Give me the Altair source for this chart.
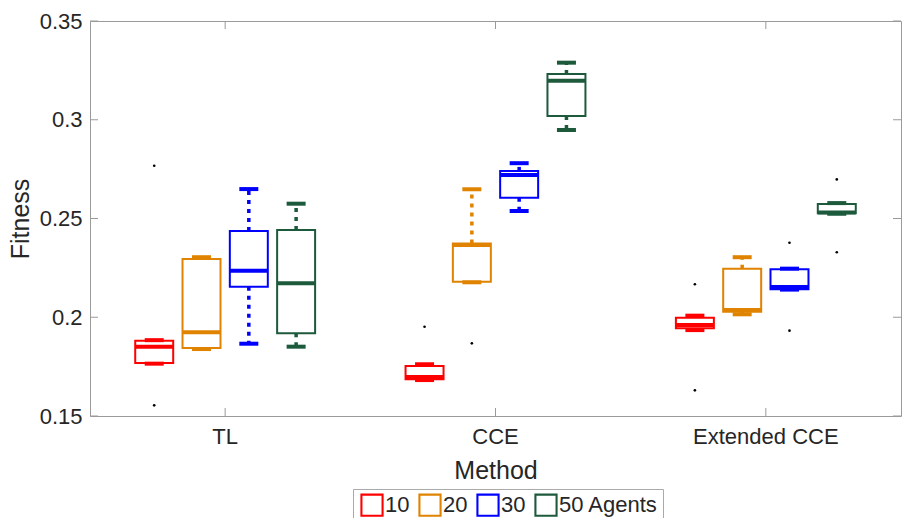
import altair as alt
import pandas as pd

methods = ["TL", "CCE", "Extended CCE"]
agents = ["10", "20", "30", "50 Agents"]
colors = ["#FF0000", "#E08300", "#0000FF", "#1D5A3C"]

# order: TL(10,20,30,50), CCE(10,20,30,50), Extended CCE(10,20,30,50)
lower = [0.1765, 0.1839, 0.1866, 0.1851,
         0.1682, 0.2177, 0.2538, 0.2948,
         0.1935, 0.2015, 0.2140, 0.2524]
q1 = [0.1768, 0.1844, 0.2155, 0.1919,
      0.1686, 0.2180, 0.2605, 0.3019,
      0.1944, 0.2028, 0.2142, 0.2526]
median = [0.1851, 0.1924, 0.2236, 0.2172,
          0.1697, 0.2366, 0.2720, 0.3198,
          0.1961, 0.2037, 0.2153, 0.2530]
q3 = [0.1881, 0.2295, 0.2437, 0.2442,
      0.1753, 0.2374, 0.2741, 0.3232,
      0.1998, 0.2246, 0.2243, 0.2573]
upper = [0.1884, 0.2304, 0.2649, 0.2575,
         0.1762, 0.2648, 0.2780, 0.3289,
         0.2008, 0.2304, 0.2246, 0.2578]

out_method = ["TL", "TL", "CCE", "CCE", "Extended CCE", "Extended CCE",
              "Extended CCE", "Extended CCE", "Extended CCE", "Extended CCE"]
out_agent = ["10", "10", "10", "20", "10", "10", "30", "30", "50 Agents", "50 Agents"]
out_value = [0.2767, 0.1554, 0.1952, 0.1868, 0.2167, 0.1630, 0.2377, 0.1932, 0.2698, 0.2329]

y_ticks = [0.15, 0.2, 0.25, 0.3, 0.35]

rows = []
i = 0
for m in methods:
    for a in agents:
        rows.append(dict(method=m, agent=a, series=a, lower=lower[i], q1=q1[i],
                         median=median[i], q3=q3[i], upper=upper[i]))
        i += 1
stats = pd.DataFrame(rows)
outs = pd.DataFrame(dict(method=out_method, agent=out_agent, value=out_value))
yt = pd.DataFrame(dict(v=y_ticks))
xt = pd.DataFrame(dict(method=methods))

FONT = "Liberation Sans"
TXT = "#262626"
FRAME = "#9a9a9a"

# hollow square outline used as legend symbol
RING = "M-1,-1H1V1H-1Z M-0.82,-0.82V0.82H0.82V-0.82Z"

yscale = alt.Scale(domain=[0.15, 0.35], nice=False, zero=False)
yaxis = alt.Axis(values=y_ticks, format=".2~f", ticks=False, domain=False, grid=False,
                 labelPadding=8, labelFontSize=22, titleFontSize=25, titlePadding=6)
xscale = alt.Scale(domain=methods, paddingInner=0, paddingOuter=0)
xaxis = alt.Axis(labelAngle=0, ticks=False, domain=False, grid=False, labelPadding=10,
                 labelFontSize=22, titleFontSize=25, titlePadding=11)
offscale = alt.Scale(domain=agents, paddingInner=0.197, paddingOuter=0.956)

LEG = alt.Legend(orient="none", legendX=263, legendY=468, direction="horizontal",
                 symbolType=RING, symbolSize=540, symbolStrokeWidth=0,
                 labelFontSize=22, labelFont=FONT,
                 labelColor=TXT, labelOffset=1, columnPadding=5, padding=4,
                 symbolOffset=3, strokeColor="#aaaaaa", fillColor="white", title=None)

X = alt.X("method:N", scale=xscale, axis=xaxis, title="Method")
XO = alt.XOffset("agent:N", scale=offscale)
COL = alt.Color("series:N", scale=alt.Scale(domain=agents, range=colors), legend=None)
STK = alt.Stroke("agent:N", scale=alt.Scale(domain=agents, range=colors), legend=LEG)


def Y(field):
    return alt.Y(field, scale=yscale, axis=yaxis, title="Fitness")


base = alt.Chart(stats)

box = base.mark_bar(fill="white", strokeWidth=2, opacity=1).encode(
    x=X, xOffset=XO, y=Y("q1:Q"), y2="q3:Q", stroke=STK)
wup = base.mark_rule(strokeDash=[4, 5], strokeWidth=3.5, opacity=1).encode(
    x=X, xOffset=XO, y=Y("q3:Q"), y2="upper:Q", color=COL)
wdn = base.mark_rule(strokeDash=[4, 5], strokeWidth=3.5, opacity=1).encode(
    x=X, xOffset=XO, y=Y("q1:Q"), y2="lower:Q", color=COL)
capu = base.mark_tick(size=19, thickness=4, opacity=1).encode(
    x=X, xOffset=XO, y=Y("upper:Q"), color=COL)
capd = base.mark_tick(size=19, thickness=4, opacity=1).encode(
    x=X, xOffset=XO, y=Y("lower:Q"), color=COL)
med = base.mark_tick(size=38, thickness=4, opacity=1).encode(
    x=X, xOffset=XO, y=Y("median:Q"), color=COL)
pts = alt.Chart(outs).mark_circle(size=7, color="black", opacity=1).encode(
    x=X, xOffset=XO, y=Y("value:Q"))

tl = alt.Chart(yt).mark_rule(color=FRAME, strokeWidth=1).encode(
    y=Y("v:Q"), x=alt.value(0), x2=alt.value(8))
tr = alt.Chart(yt).mark_rule(color=FRAME, strokeWidth=1).encode(
    y=Y("v:Q"), x=alt.value(811), x2=alt.value(803))
tt = alt.Chart(xt).mark_rule(color=FRAME, strokeWidth=1).encode(
    x=X, y=alt.value(0), y2=alt.value(8))
tb = alt.Chart(xt).mark_rule(color=FRAME, strokeWidth=1).encode(
    x=X, y=alt.value(395), y2=alt.value(387))

chart = alt.layer(box, tl, tr, tt, tb, wup, wdn, capu, capd, med, pts).properties(
    width=811, height=395,
    padding={"left": 90, "top": 21, "right": 1, "bottom": 102},
    autosize=alt.AutoSizeParams(type="none"),
    background="white",
).configure_view(stroke=FRAME, strokeWidth=1).configure_axis(
    labelColor=TXT, titleColor=TXT, labelFont=FONT, titleFont=FONT,
    titleFontWeight="normal", grid=False
).configure_legend(labelFont=FONT)

chart.save("out.html", embed_options={"renderer": "svg", "actions": False})
